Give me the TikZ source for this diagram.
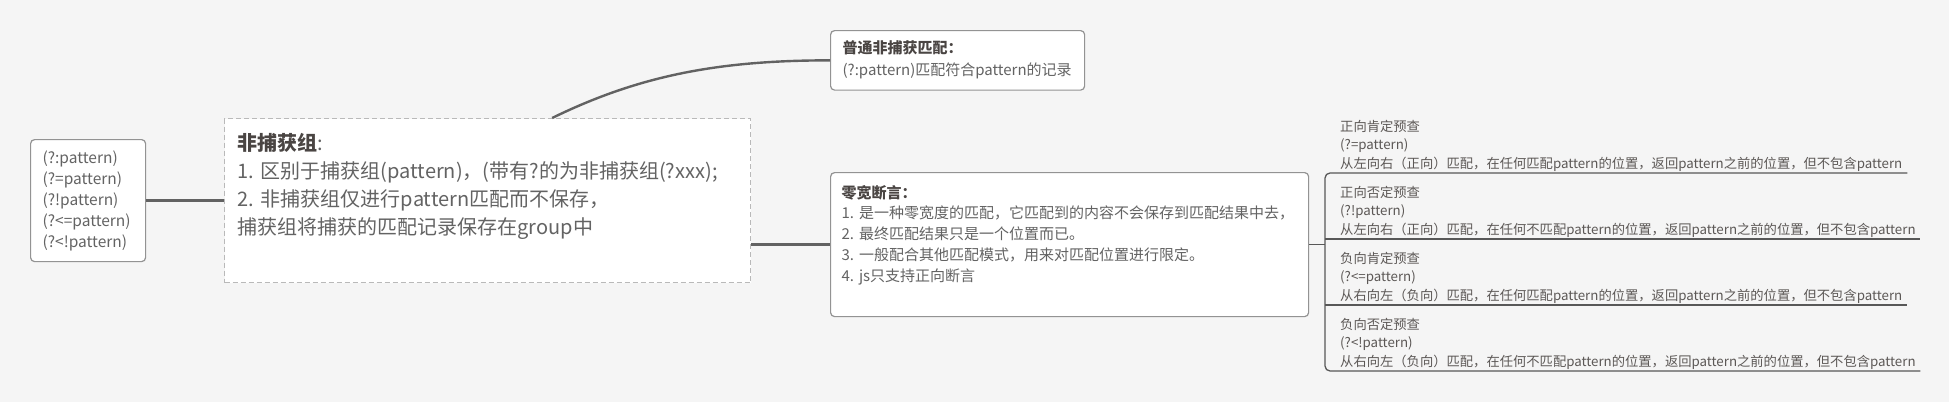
\documentclass[tikz,border=0pt]{standalone}
\usepackage{fontspec}
\setmainfont{Noto Sans CJK SC}
\usetikzlibrary{positioning}
\frenchspacing
\definecolor{bg}{HTML}{F5F5F5}
\definecolor{txt}{HTML}{636363}
\definecolor{ttl}{HTML}{4A4543}
\definecolor{linec}{HTML}{626262}
\definecolor{frame}{HTML}{939393}

\begin{document}
\begin{tikzpicture}[x=1pt,y=-1pt,
box/.style={draw=frame,line width=1.2pt,fill=white,rounded corners=4pt,anchor=north west,
  align=left,inner ysep=0pt,inner xsep=12pt,text=txt},
dashbox/.style={box,draw=frame!65,sharp corners,dash pattern=on 5pt off 3pt},
item/.style={anchor=south west,align=left,inner xsep=15pt,inner ysep=0pt,text height=14pt,
  text depth=41.7pt,text=ttl!90,font=\fontsize{13.3}{18.7}\selectfont},
conn/.style={draw=linec,line width=2.4pt},
brk/.style={draw=linec!90!black,line width=1.3pt,rounded corners=5pt}]
\useasboundingbox[fill=bg] (0,0) rectangle (1949,402);

\node[box,text width=91pt,text height=24pt,text depth=98pt,
  font=\fontsize{15.5}{21}\selectfont] (lbox) at (30,139)
  {(?:pattern)\\(?=pattern)\\(?!pattern)\\(?<=pattern)\\(?<!pattern)};
\node[dashbox,text width=500pt,inner xsep=13pt,text height=32pt,text depth=132pt,
  font=\fontsize{20}{28}\selectfont] (ncg) at (224,118)
  {\textbf{\color{ttl}非捕获组}:\\
   1. 区别于捕获组(pattern)，(带有?的为非捕获组(?xxx);\\
   2. 非捕获组仅进行pattern匹配而不保存，\\
   捕获组将捕获的匹配记录保存在group中};
\node[box,text width=230pt,text height=23pt,text depth=36.5pt,
  font=\fontsize{15}{22}\selectfont] (plain) at (830,30)
  {\textbf{\color{ttl}普通非捕获匹配：}\\(?:pattern)匹配符合pattern的记录};
\node[box,text width=456pt,inner xsep=11pt,text height=25.5pt,text depth=118.5pt,
  font=\fontsize{15}{20.75}\selectfont] (zero) at (830,172)
  {\textbf{\color{ttl}零宽断言：}\\
   1. 是一种零宽度的匹配，它匹配到的内容不会保存到匹配结果中去，\\
   2. 最终匹配结果只是一个位置而已。\\
   3. 一般配合其他匹配模式，用来对匹配位置进行限定。\\
   4. js只支持正向断言};

% lookaround items
\node[item,text width=552pt] (it1) at (1325,173)
  {正向肯定预查\\(?=pattern)\\从左向右（正向）匹配，在任何匹配pattern的位置，返回pattern之前的位置，但不包含pattern};
\node[item,text width=565pt] (it2) at (1325,239)
  {正向否定预查\\(?!pattern)\\从左向右（正向）匹配，在任何不匹配pattern的位置，返回pattern之前的位置，但不包含pattern};
\node[item,text width=552pt] (it3) at (1325,305)
  {负向肯定预查\\(?<=pattern)\\从右向左（负向）匹配，在任何匹配pattern的位置，返回pattern之前的位置，但不包含pattern};
\node[item,text width=565pt] (it4) at (1325,371)
  {负向否定预查\\(?<!pattern)\\从右向左（负向）匹配，在任何不匹配pattern的位置，返回pattern之前的位置，但不包含pattern};

\draw[conn] (lbox) -- (ncg);
\draw[conn] (ncg.52) .. controls +(88,-43) and +(-110,0) .. (plain.west);
\draw[conn] (ncg.east |- zero.west) -- (zero.west);
\draw[brk] (zero.east) -- (zero.east -| it1.south west);
\draw[brk] (it1.south east) -- (it1.south west) -- (it4.south west) -- (it4.south east);
\draw[brk] (it2.south west) -- (it2.south east);
\draw[brk] (it3.south west) -- (it3.south east);
\end{tikzpicture}
\end{document}
